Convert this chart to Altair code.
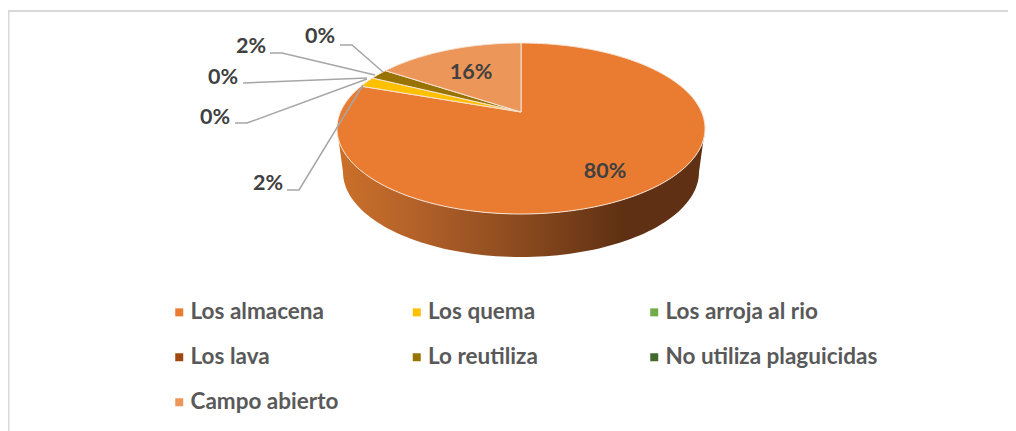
import math
import altair as alt
import pandas as pd

# ---- chart values
categories = ["Los almacena", "Los quema", "Los arroja al rio", "Los lava",
              "Lo reutiliza", "No utiliza plaguicidas", "Campo abierto"]
percent = [80, 2, 0, 0, 2, 0, 16]
top_colors = ["#EA7C32", "#FFC000", "#70AD47", "#9E480E", "#997300", "#43682B", "#EC965A"]

# ---- layout of the tilted pie (page pixels)
CX, CY, RX, RY = 521.0, 128.5, 184.0, 85.5
APEX = (521.0, 112.0)
DEPTH_CY, DEPTH_RX, DEPTH_RY = 172.0, 178.0, 85.0
PERSPECTIVE = 0.8


def warp(deg):
    """Value angle (clockwise from top) -> ellipse parameter under the tilt."""
    d = ((deg + 180) % 360) - 180
    return 2 * math.degrees(math.atan(PERSPECTIVE * math.tan(math.radians(d / 2))))


def rim(deg):
    t = math.radians(warp(deg))
    return CX + RX * math.sin(t), CY - RY * math.cos(t)


# slices
rows = []
start = 0.0
for name, pct in zip(categories, percent):
    sweep = pct * 3.6
    if pct > 0:
        steps = max(2, int(sweep))
        rows.append(dict(slice=name, i=0, x=APEX[0], y=APEX[1]))
        for k in range(steps + 1):
            px, py = rim(start + sweep * k / steps)
            rows.append(dict(slice=name, i=k + 1, x=px, y=py))
    start += sweep
slices = pd.DataFrame(rows)

# side wall of the drum
wall_rows = []
for k, deg in enumerate(range(90, 271, 2)):
    t = math.radians(deg)
    wall_rows.append(dict(i=k, x=CX + RX * math.sin(t), y=CY - RY * math.cos(t)))
for k, deg in enumerate(range(270, 89, -2)):
    t = math.radians(deg)
    wall_rows.append(dict(i=1000 + k, x=CX + DEPTH_RX * math.sin(t), y=DEPTH_CY - DEPTH_RY * math.cos(t)))
wall = pd.DataFrame(wall_rows)

# labels and leader lines
labels = pd.DataFrame({
    "text": [f"{p}%" for p in percent],
    "x": [605, 268, 215, 223, 251, 320, 471],
    "y": [171.5, 183.5, 117.5, 77.5, 47, 37, 73],
})
leaders = pd.DataFrame(
    [dict(g=g, i=i, x=x, y=y) for g, pts in enumerate([
        [(287, 190), (299, 190), (363, 85)],
        [(235, 123), (247, 123), (367, 79)],
        [(243, 83), (367, 78)],
        [(270, 53), (282, 53), (375, 75)],
        [(340, 45), (352, 45), (383, 72)],
    ]) for i, (x, y) in enumerate(pts)]
)
frame = pd.DataFrame({"i": [0, 1, 2], "x": [8.5, 8.5, 1008], "y": [431, 11, 11]})

W, H = 1000, 423
X = alt.X("x:Q", scale=alt.Scale(domain=[8, 8 + W], range=[0, W]), axis=None)
Y = alt.Y("y:Q", scale=alt.Scale(domain=[8 + H, 8], range=[H, 0]), axis=None)

frame_layer = alt.Chart(frame).mark_line(color="#D9D9D9", strokeWidth=2).encode(x=X, y=Y, order="i:Q")

wall_layer = alt.Chart(wall).mark_line(
    interpolate="linear-closed",
    strokeWidth=0,
    fill=alt.Gradient(
        gradient="linear", x1=0, x2=1, y1=0, y2=0,
        stops=[
            alt.GradientStop(color="#CB7029", offset=0),
            alt.GradientStop(color="#B5622A", offset=0.2),
            alt.GradientStop(color="#8A4A1E", offset=0.5),
            alt.GradientStop(color="#5F3013", offset=0.78),
            alt.GradientStop(color="#5F3013", offset=1),
        ],
    ),
).encode(x=X, y=Y, order="i:Q")

slice_layer = alt.Chart(slices).mark_line(
    interpolate="linear-closed", stroke="#F7E3D3", strokeWidth=1
).encode(
    x=X, y=Y, order="i:Q",
    fill=alt.Fill(
        "slice:N",
        scale=alt.Scale(domain=categories, range=top_colors),
        legend=alt.Legend(
            title=None, orient="none", direction="horizontal", legendX=160, legendY=293, columns=3,
            gridAlign="all", columnPadding=2.5, rowPadding=22,
            symbolType="square", symbolSize=64, symbolStrokeWidth=0,
            labelFont="Lato", labelFontWeight="bold", labelFontSize=22.5,
            labelColor="#595959", labelOffset=0, labelLimit=400,
            values=categories,
        ),
    ),
)

leader_layer = alt.Chart(leaders).mark_line(color="#A6A6A6", strokeWidth=1.5).encode(
    x=X, y=Y, order="i:Q", detail="g:N"
)

text_layer = alt.Chart(labels).mark_text(
    font="Lato", fontWeight="bold", fontSize=21.5, color="#404040", align="center", baseline="middle"
).encode(x=X, y=Y, text="text:N")

chart = alt.layer(frame_layer, wall_layer, slice_layer, leader_layer, text_layer).properties(
    width=W, height=H, padding=0, autosize=alt.AutoSizeParams(type="none"),
    background="white",
).configure_view(stroke=None)

chart.save("out.html", embed_options={"renderer": "svg", "actions": False})
